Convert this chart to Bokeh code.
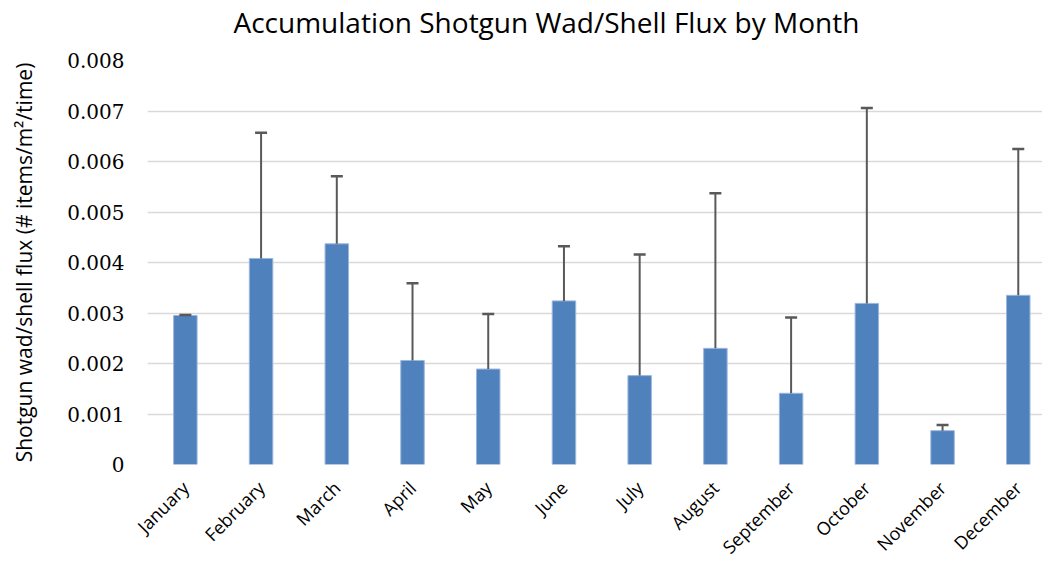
import numpy as np
from bokeh.plotting import figure
from bokeh.models import (ColumnDataSource, Range1d, FixedTicker, Whisker, TeeHead,
                          CustomJSTickFormatter, Title)
from bokeh.embed import file_html
from bokeh.resources import INLINE

months = ["January", "February", "March", "April", "May", "June", "July",
          "August", "September", "October", "November", "December"]
flux = [0.00295, 0.00408, 0.00437, 0.00206, 0.00189, 0.00324, 0.00176,
        0.00230, 0.00141, 0.00319, 0.00067, 0.00335]
err = [0.00001, 0.00249, 0.00134, 0.00153, 0.00109, 0.00108, 0.00240,
       0.00307, 0.00150, 0.00387, 0.00011, 0.00290]
y_ticks = [0, 0.001, 0.002, 0.003, 0.004, 0.005, 0.006, 0.007, 0.008]
title_text = "Accumulation Shotgun Wad/Shell Flux by Month"

x = np.arange(len(months)) + 0.5
src = ColumnDataSource(dict(x=x, month=months, flux=flux,
                            upper=np.array(flux) + np.array(err)))

p = figure(width=1042, height=572, output_backend="svg", toolbar_location=None,
           title=None,
           x_range=Range1d(0, 11.82), y_range=Range1d(0, 0.008),
           min_border_left=147, min_border_right=0, min_border_top=60,
           min_border_bottom=108)
p.outline_line_color = None
p.background_fill_color = "white"

# spacer between frame and title, then the title itself (outermost)
spacer = Title(text=" ", text_font_size="1px", standoff=17)
p.add_layout(spacer, "above")
main_title = Title(text=title_text, text_font="Open Sans", text_font_size="28px",
                   text_font_style="normal", text_color="#000000",
                   align="left", offset=86, standoff=0)
p.add_layout(main_title, "above")

p.vbar(x="x", top="flux", width=0.31, source=src, fill_color="#4F81BD",
       line_color="#9bb6dc", line_width=1)

w = Whisker(source=src, base="x", lower="flux", upper="upper", dimension="height",
            line_color="#595959", line_width=2,
            upper_head=TeeHead(size=12, line_color="#595959", line_width=2.5),
            lower_head=None, level="overlay")
p.add_layout(w)

p.xgrid.grid_line_color = None
p.ygrid.grid_line_color = "#d9d9d9"
p.ygrid.grid_line_width = 1.5
p.ygrid.ticker = FixedTicker(ticks=y_ticks)

p.yaxis.ticker = FixedTicker(ticks=y_ticks)
p.yaxis.formatter = CustomJSTickFormatter(code="return tick == 0 ? '0' : tick.toFixed(3);")
p.yaxis.axis_line_color = None
p.yaxis.major_tick_line_color = None
p.yaxis.minor_tick_line_color = None
p.yaxis.major_label_text_font = "DejaVu Serif"
p.yaxis.major_label_text_font_size = "20px"
p.yaxis.major_label_text_color = "#000000"
p.yaxis.major_label_standoff = 17
p.yaxis.axis_label = "Shotgun wad/shell flux (# items/m\u00b2/time)"
p.yaxis.axis_label_text_font = "Open Sans"
p.yaxis.axis_label_text_font_size = "21px"
p.yaxis.axis_label_text_font_style = "normal"
p.yaxis.axis_label_text_color = "#000000"
p.yaxis.axis_label_standoff = 26

p.xaxis.ticker = FixedTicker(ticks=list(x))
p.xaxis.major_label_overrides = {float(v): m for v, m in zip(x, months)}
p.xaxis.major_label_orientation = np.pi / 4
p.xaxis.axis_line_color = None
p.xaxis.major_tick_line_color = None
p.xaxis.minor_tick_line_color = None
p.xaxis.major_label_text_font = "Open Sans"
p.xaxis.major_label_text_font_size = "18px"
p.xaxis.major_label_text_color = "#000000"
p.xaxis.major_label_standoff = 14

open("out.html", "w").write(file_html(p, INLINE))
